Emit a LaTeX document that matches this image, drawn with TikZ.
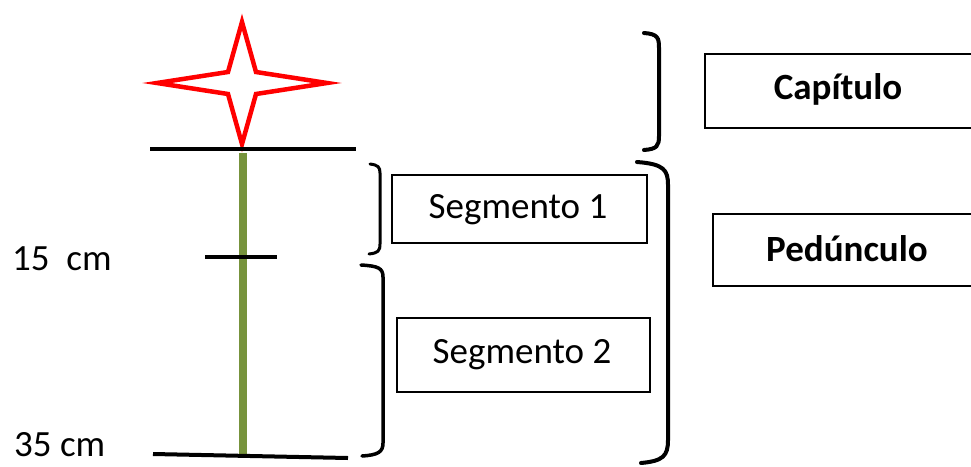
\documentclass[tikz,border=0pt]{standalone}
\usepackage{fontspec}
\setmainfont{Carlito}
\begin{document}
\begin{tikzpicture}[x=1pt,y=-1pt,
  lbl/.style={inner sep=0pt,font=\fontsize{37}{42}\selectfont},
  boldlbl/.style={inner sep=0pt,font=\fontsize{37}{42}\selectfont\bfseries},
  textbox/.style={draw=black,line width=2pt,inner sep=0pt},
  brace/.style={draw=black,line width=4pt,line cap=round},
  tickline/.style={draw=black,line width=4pt}]
\useasboundingbox (0,0) rectangle (971,466);
\clip (0,0) rectangle (971,466);
% stem
\coordinate (stemtop) at (243,153);
\coordinate (stembot) at (243,455);
\draw[line width=8pt,draw={rgb,255:red,119;green,147;blue,60}] (stemtop) -- (stembot);
% star
\draw[red,line width=4.5pt,line join=miter,miter limit=20]
  (242,22) -- (256,72) -- (327,83) -- (256,94) -- (242,144) -- (228,94) -- (157,83) -- (228,72) -- cycle;
% horizontal marks
\coordinate (t1) at (150,149); \coordinate (t2) at (356,149);
\draw[tickline] (t1) -- (t2);
\coordinate (m1) at (205,257); \coordinate (m2) at (277,257);
\draw[tickline] (m1) -- (m2);
\coordinate (b1) at (153,454); \coordinate (b2) at (348,458);
\draw[tickline] (b1) -- (b2);
% labels
\node[lbl,anchor=west] (l15) at (12,259) {15\ \ cm};
\node[lbl,anchor=west] (l35) at (14,445) {35 cm};
% boxes
\node[textbox,minimum width=300pt,minimum height=74pt,anchor=north west] (capbox) at (704,53) {};
\node[boldlbl] (cap) at (838,89) {Capítulo};
\node[textbox,minimum width=300pt,minimum height=72pt,anchor=north west] (pedbox) at (712,213) {};
\node[boldlbl] (ped) at (847,249) {Pedúnculo};
\node[textbox,minimum width=255pt,minimum height=68pt,anchor=north west] (s1) at (391,174) {};
\node[lbl] (s1t) at (518,210) {Segmento 1};
\node[textbox,minimum width=253pt,minimum height=74pt,anchor=north west] (s2) at (396,317) {};
\node[lbl] (s2t) at (522,355) {Segmento 2};
% braces
\draw[brace] (644,33) .. controls (658,34) and (659,38) .. (659,48) -- (659,136) .. controls (659,146) and (657,149) .. (644,150);
\draw[brace] (637,162) .. controls (664,164) and (668,170) .. (668,185) -- (668,440) .. controls (668,456) and (663,461) .. (641,463);
\draw[brace,line width=3pt] (370,164) .. controls (378,165) and (380,167) .. (380,173) -- (380,244) .. controls (380,251) and (378,253) .. (369,254);
\draw[brace,line width=3.5pt] (361,265) .. controls (378,266) and (383,268) .. (383,277) -- (383,443) .. controls (383,452) and (378,455) .. (362,456);
\end{tikzpicture}
\end{document}
